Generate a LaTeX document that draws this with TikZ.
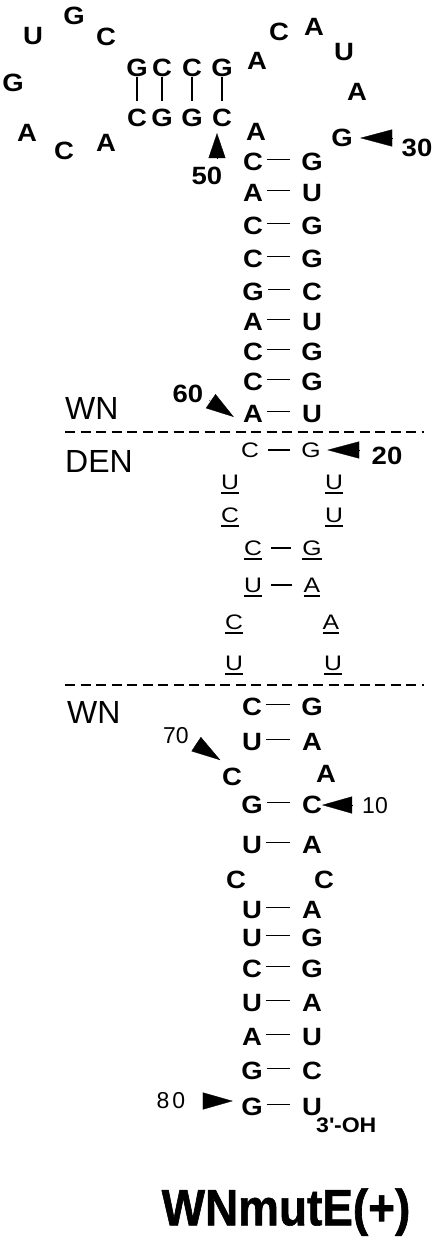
\documentclass[tikz,border=0pt]{standalone}
\usepackage{fontspec}
\setmainfont{Liberation Sans}
\newfontfamily\nucfont[FakeStretch=1.1]{Liberation Sans}
\newfontfamily\denfont[FakeStretch=1.18]{Liberation Sans}
\newfontfamily\titlefont[FakeStretch=0.9,BoldFeatures={FakeBold=1.2}]{Liberation Sans}
\usepackage{tikz}
\usetikzlibrary{arrows.meta}

\newcommand{\subr}[1]{\vtop{\hbox{#1}\kern2.5pt\hrule height 1.5pt}}

\begin{document}
\begin{tikzpicture}[x=1pt,y=-1pt,
  nt/.style={inner sep=0pt,font=\nucfont\fontsize{25}{25}\selectfont\bfseries,text height=17.9pt,text depth=0pt},
  dn/.style={inner sep=0pt,font=\denfont\fontsize{21}{21}\selectfont,text height=15pt,text depth=0pt},
  region/.style={inner sep=0pt,anchor=west,font=\fontsize{32}{32}\selectfont,text height=23pt,text depth=0pt},
  num/.style={inner sep=0pt,font=\nucfont\fontsize{25}{25}\selectfont\bfseries,text height=18pt,text depth=0pt},
  numr/.style={inner sep=0pt,font=\fontsize{23}{23}\selectfont,text height=16.5pt,text depth=0pt},
  bp/.style={line width=1.5pt,shorten <=4pt,shorten >=11.5pt,transform canvas={yshift=2.5pt}},
  bpden/.style={line width=1.5pt,shorten <=9pt,shorten >=11.4pt},
  vbp/.style={line width=1.4pt,shorten >=8pt},
  border/.style={line width=1.8pt,dash pattern=on 10pt off 5.5pt},
  pointer/.style={-{Triangle[length=32pt,width=17pt]},line width=0.3pt}
]
  \useasboundingbox (0,0) rectangle (436,1238);

  % Bucle superior izquierdo
  \node[nt] (lp1) at (33,36) {U};
  \node[nt] (lp2) at (74,16) {G};
  \node[nt] (lp3) at (106,37) {C};
  \node[nt] (lp4) at (13,83) {G};
  \node[nt] (lp5) at (27,133) {A};
  \node[nt] (lp6) at (64,151) {C};
  \node[nt] (lp7) at (106,143) {A};

  % Horquilla pequena
  \foreach \t/\b/\x [count=\i] in {G/C/137, C/G/162, C/G/192, G/C/222}{
    \node[nt] (ht\i) at (\x,68) {\t};
    \node[nt] (hb\i) at (\x,118) {\b};
    \draw[vbp] (ht\i) -- (hb\i);
  }

  % Bucle superior derecho
  \node[nt] (rp1) at (257,61) {A};
  \node[nt] (rp2) at (279,32) {C};
  \node[nt] (rp3) at (314,27) {A};
  \node[nt] (rp4) at (344,52) {U};
  \node[nt] (rp5) at (357,92) {A};
  \node[nt] (rp6) at (342,138) {G};
  \node[nt] (up1) at (256,132) {A};

  % Tallo WN superior
  \foreach \l/\r/\y [count=\i] in {C/G/162, A/U/193, C/G/226, C/G/259, G/C/292,
                                  A/U/322, C/G/352, C/G/382, A/U/414}{
    \node[nt] (wl\i) at (253,\y) {\l};
    \node[nt] (wr\i) at (312,\y) {\r};
    \draw[bp] (wl\i) -- (wr\i);
  }

  % Lineas de separacion
  \draw[border] (65,432) -- (424,432);
  \draw[border] (65,685) -- (424,685);

  % Region DEN
  \node[dn] (dl1) at (250,450) {C};
  \node[dn] (dr1) at (311,450) {G};
  \draw[bpden] (dl1) -- (dr1);
  \node[dn] (dl2) at (230,482) {\subr{U}};
  \node[dn] (dr2) at (334,482) {\subr{U}};
  \node[dn] (dl3) at (230,515) {\subr{C}};
  \node[dn] (dr3) at (334,515) {\subr{U}};
  \node[dn] (dl4) at (253,548) {\subr{C}};
  \node[dn] (dr4) at (312,548) {\subr{G}};
  \draw[bpden] (dl4) -- (dr4);
  \node[dn] (dl5) at (253,585) {\subr{U}};
  \node[dn] (dr5) at (312,585) {\subr{A}};
  \draw[bpden] (dl5) -- (dr5);
  \node[dn] (dl6) at (234,622) {\subr{C}};
  \node[dn] (dr6) at (331,622) {\subr{A}};
  \node[dn] (dl7) at (234,663) {\subr{U}};
  \node[dn] (dr7) at (333,663) {\subr{U}};

  % Tallo WN inferior
  \foreach \l/\r/\y [count=\i] in {C/G/707, U/A/742, G/C/805, U/A/845, U/A/910, U/G/938,
                                  C/G/969, U/A/1003, A/U/1037, G/C/1071, G/U/1107}{
    \node[nt] (ll\i) at (252,\y) {\l};
    \node[nt] (lr\i) at (312,\y) {\r};
    \draw[bp] (ll\i) -- (lr\i);
  }
  \node[nt] (lx1) at (232,777) {C};
  \node[nt] (rx1) at (326,774) {A};
  \node[nt] (lx2) at (236,880) {C};
  \node[nt] (rx2) at (324,880) {C};
  \node[inner sep=0pt,anchor=west,font=\nucfont\fontsize{21}{21}\selectfont\bfseries,
        text height=15pt,text depth=0pt] (oh) at (316,1125) {3\textquotesingle-OH};

  % Etiquetas de region
  \node[region] (wn1) at (65,408) {WN};
  \node[region] (den) at (65,461) {DEN};
  \node[region] (wn2) at (67,712) {WN};

  % Numeracion
  \node[num] (n30) at (417,148) {30};
  \node[num] (n50) at (207,176) {50};
  \node[num] (n60) at (188,393) {60};
  \node[num] (n20) at (387,455) {20};
  \node[numr] (n70) at (176,735) {70};
  \node[numr] (n10) at (375,805) {10};
  \node[numr] (n80) at (171,1100) {8\hspace{3pt}0};

  % Flechas
  \coordinate (b30) at (393,138);
  \draw[pointer,shorten >=7.3pt] (b30) -- (rp6);
  \coordinate (b50) at (217,158);
  \draw[pointer,-{Triangle[length=25pt,width=17pt]},shorten >=6pt] (b50) -- (b50 |- hb4.south);
  \coordinate (b60) at (209,400);
  \draw[pointer,-{Triangle[length=28pt,width=17pt]},shorten >=11pt] (b60) -- (wl9.south west);
  \coordinate (b20) at (360,450);
  \draw[pointer,shorten >=6.4pt] (b20) -- (dr1);
  \coordinate (b70) at (196,744);
  \draw[pointer,-{Triangle[length=29pt,width=17pt]},shorten >=14pt] (b70) -- (lx1.north);
  \coordinate (b10) at (353,805);
  \draw[pointer,-{Triangle[length=30pt,width=17pt]}] (b10) -- (lr3);
  \coordinate (b80) at (203,1101);
  \draw[pointer,-{Triangle[length=30pt,width=17pt]},shorten >=8.3pt] (b80) -- (b80 -| ll11.west);

  % Titulo
  \node[font=\titlefont\fontsize{51}{51}\selectfont\bfseries,inner sep=0pt,
        text height=36.5pt,text depth=0pt] (title) at (286,1207) {WNmutE(+)};
\end{tikzpicture}
\end{document}
